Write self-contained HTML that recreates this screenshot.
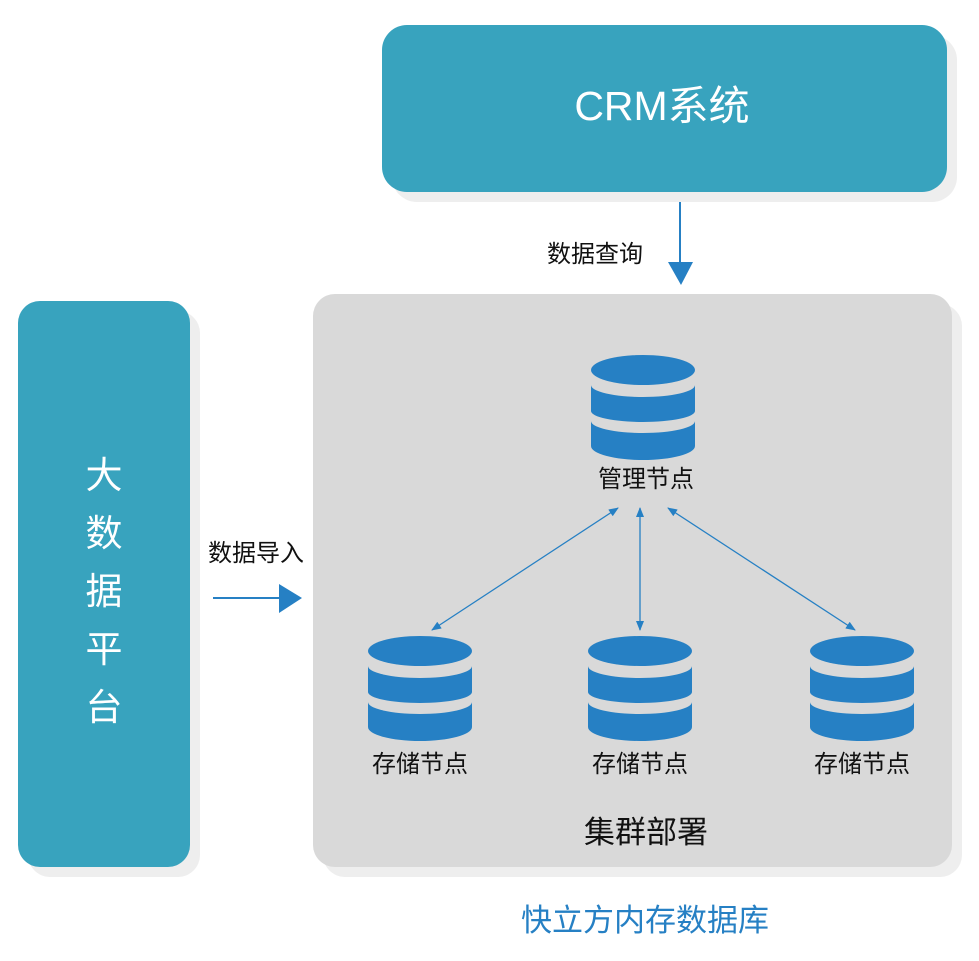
<!DOCTYPE html>
<html><head><meta charset="utf-8"><style>
body{margin:0;background:#fff;}
svg text{font-family:"Liberation Sans","Noto Sans CJK SC",sans-serif;}
</style></head><body>
<svg width="979" height="956" viewBox="0 0 979 956" xmlns="http://www.w3.org/2000/svg">
<defs>
<g id="db">
<ellipse cx="52" cy="15" rx="52" ry="15" fill="#2680c4"/>
<path d="M0,30 A52,12 0 0 0 104,30 L104,56 A52,11 0 0 1 0,56 Z" fill="#2680c4"/>
<path d="M0,66 A52,12 0 0 0 104,66 L104,91 A52,14 0 0 1 0,91 Z" fill="#2680c4"/>
</g>
<marker id="ah" markerWidth="10" markerHeight="8" refX="9" refY="4" orient="auto-start-reverse" markerUnits="userSpaceOnUse">
<path d="M0,0 L10,4 L0,8 Z" fill="#2680c4"/>
</marker>
</defs>
<rect x="392" y="35" width="565" height="167" rx="25" fill="#eeeeee"/>
<rect x="28" y="311" width="172" height="566" rx="22" fill="#eeeeee"/>
<rect x="323" y="304" width="639" height="573" rx="22" fill="#eeeeee"/>
<rect x="382" y="25" width="565" height="167" rx="25" fill="#38a3be"/>
<text x="662" y="120" font-size="41" fill="#fff" text-anchor="middle">CRM系统</text>
<rect x="18" y="301" width="172" height="566" rx="22" fill="#38a3be"/>
<g font-size="37" fill="#fff" text-anchor="middle">
<text x="104" y="488">大</text><text x="104" y="546">数</text><text x="104" y="604">据</text><text x="104" y="662">平</text><text x="104" y="720">台</text>
</g>
<rect x="313" y="294" width="639" height="573" rx="22" fill="#d9d9d9"/>
<line x1="680" y1="202" x2="680" y2="264" stroke="#2680c4" stroke-width="2"/>
<path d="M668,262 L693,262 L681,285 Z" fill="#2680c4"/>
<text x="595" y="262" font-size="24" fill="#111" text-anchor="middle">数据查询</text>
<line x1="213" y1="598" x2="282" y2="598" stroke="#2680c4" stroke-width="2"/>
<path d="M279,584 L302,598 L279,613 Z" fill="#2680c4"/>
<text x="256" y="561" font-size="24" fill="#111" text-anchor="middle">数据导入</text>
<use href="#db" x="591" y="355"/>
<text x="646" y="487" font-size="24" fill="#111" text-anchor="middle">管理节点</text>
<use href="#db" x="368" y="636"/>
<use href="#db" x="588" y="636"/>
<use href="#db" x="810" y="636"/>
<g font-size="24" fill="#111" text-anchor="middle">
<text x="420" y="772">存储节点</text><text x="640" y="772">存储节点</text><text x="862" y="772">存储节点</text>
</g>
<g stroke="#2680c4" stroke-width="1.3" fill="none">
<line x1="618" y1="508" x2="432" y2="630" marker-start="url(#ah)" marker-end="url(#ah)"/>
<line x1="640" y1="508" x2="640" y2="630" marker-start="url(#ah)" marker-end="url(#ah)"/>
<line x1="668" y1="508" x2="855" y2="630" marker-start="url(#ah)" marker-end="url(#ah)"/>
</g>
<text x="646" y="843" font-size="31" fill="#111" text-anchor="middle">集群部署</text>
<text x="645" y="931" font-size="31" fill="#2680c4" text-anchor="middle">快立方内存数据库</text>
</svg>
</body></html>
